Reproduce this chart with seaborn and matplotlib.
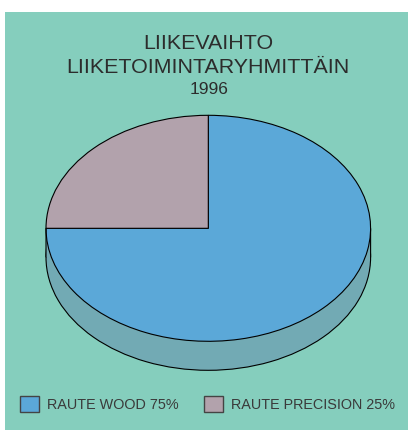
"""
Revenue by business group, 1996 (pseudo-3D pie)
"""
import matplotlib
matplotlib.use("Agg")
import matplotlib.pyplot as plt
import seaborn as sns

sns.set_theme(style="white")
plt.rcParams['font.family'] = ['Liberation Sans', 'DejaVu Sans']
plt.rcParams['patch.force_edgecolor'] = True

groups = ['RAUTE WOOD', 'RAUTE PRECISION']
shares = [75, 25]
legend_labels = [f"{g} {s}%" for g, s in zip(groups, shares)]

W, H = 408, 430
BG = '#85CEBD'
SIDE = '#72AAB4'
INK = '#2C2C2C'
palette = sns.color_palette(['#5BA8D8', '#B2A2AC'])

# ellipse geometry, pixels
CX, CY, RX, RY, DEPTH = 208.3, 228.3, 162.3, 113, 29
PANEL_L, PANEL_T = 5, 12

fig = plt.figure(figsize=(W / 100, H / 100), dpi=100, facecolor='white')
ax = fig.add_axes([PANEL_L / W, 0, (W - PANEL_L) / W, (H - PANEL_T) / H])

# side wall first: a full disc moved down, and the band joining it to the top
depth = DEPTH / RY
ax.pie([1], colors=[SIDE], startangle=90, center=(0, -depth),
       wedgeprops={'edgecolor': 'black', 'linewidth': 0.8})
ax.bar(0, depth, width=2, bottom=-depth, color=SIDE, edgecolor='none', linewidth=0)
ax.vlines([-1, 1], -depth, 0, color='black', linewidth=0.8).set_snap(False)

# top face
wedges, _ = ax.pie(shares, colors=palette, startangle=90, counterclock=False,
                   wedgeprops={'edgecolor': 'black', 'linewidth': 0.8})

# stretch the unit circle to the ellipse and line the axes up with the panel
ax.set_aspect('auto')
ax.set_xlim((PANEL_L - CX) / RX, (W - CX) / RX)
ax.set_ylim((CY - H) / RY, (CY - PANEL_T) / RY)
ax.set_xticks([])
ax.set_yticks([])
ax.set_frame_on(True)
ax.set_facecolor(BG)
sns.despine(ax=ax, left=True, bottom=True)

fig.text(208 / W, 1 - 43.5 / H, 'LIIKEVAIHTO', ha='center', va='center',
         fontsize=15.4, color=INK)
fig.text(208 / W, 1 - 67.5 / H, 'LIIKETOIMINTARYHMITTÄIN', ha='center', va='center',
         fontsize=15.4, color=INK)
fig.text(209 / W, 1 - 90 / H, '1996', ha='center', va='center',
         fontsize=12.5, color=INK)

leg = ax.legend(wedges, legend_labels, ncol=2, loc='center left',
                bbox_to_anchor=(20 / W, 1 - 404 / H), bbox_transform=fig.transFigure,
                frameon=False, fontsize=10.35, labelcolor='#3A3A3A',
                borderpad=0, borderaxespad=0,
                handlelength=1.32, handleheight=1.32, handletextpad=0.56,
                columnspacing=1.75)
for h in leg.legend_handles:
    h.set_edgecolor('#444444')
    h.set_linewidth(1.0)

plt.savefig('out.png', dpi=100)
plt.close()
